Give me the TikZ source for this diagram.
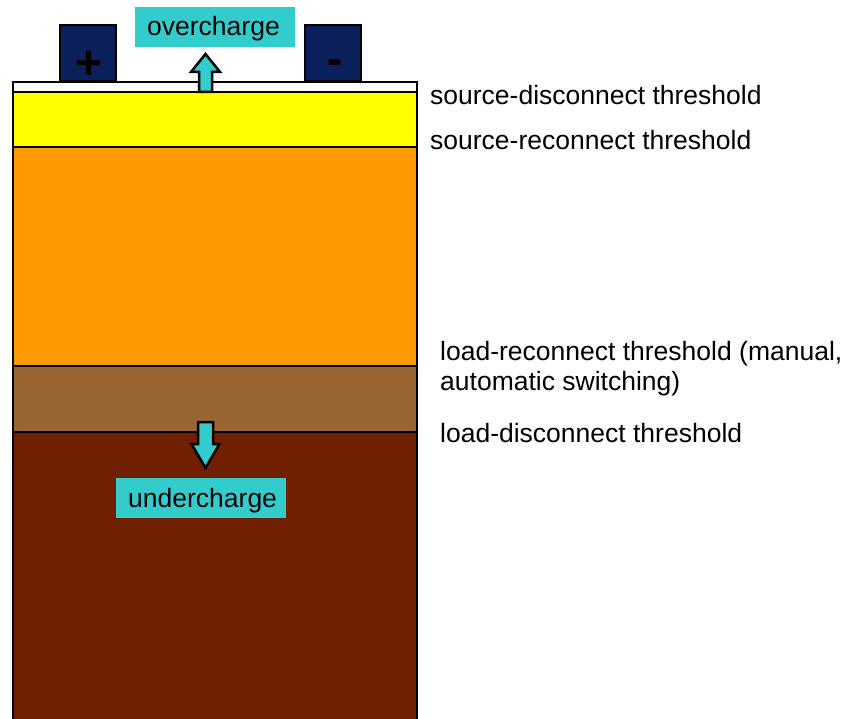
\documentclass[tikz,border=0pt]{standalone}
\usepackage{fontspec}
\setmainfont{Liberation Sans}
\definecolor{cyellow}{HTML}{FFFF00}
\definecolor{corange}{HTML}{FF9900}
\definecolor{ctan}{HTML}{996633}
\definecolor{cbrown}{HTML}{702000}
\definecolor{cnavy}{HTML}{0B1F5B}
\definecolor{cteal}{HTML}{33CCCC}
\tikzset{
  layer/.style={draw=black, line width=2.8pt},
  terminal/.style={draw=black, line width=2.6pt, fill=cnavy},
  blockarrow/.style={draw=black, line width=2.5pt, fill=cteal, line join=miter},
  tag/.style={fill=cteal, inner sep=0pt},
  label/.style={anchor=base west, inner sep=0pt, font=\fontsize{26.5}{30}\selectfont},
  sign/.style={anchor=base, inner sep=0pt, font=\bfseries\fontsize{46}{46}\selectfont}
}
\begin{document}
\begin{tikzpicture}[x=1pt,y=-1pt]
\useasboundingbox (0,0) rectangle (848,719);
\begin{scope}
\clip (0,0) rectangle (848,719);
% battery layers
\draw[layer, fill=white]   (13,82)  rectangle (417,92);
\draw[layer, fill=cyellow] (13,92)  rectangle (417,147);
\draw[layer, fill=corange] (13,147) rectangle (417,366);
\draw[layer, fill=ctan]    (13,366) rectangle (417,432);
\draw[layer, fill=cbrown]  (13,432) rectangle (417,730);
\end{scope}
% terminals
\draw[terminal] (60,25) rectangle (116,81);
\draw[terminal] (305,25) rectangle (361,81);
\node[sign] (plus) at (89,79) {+};
\node[sign] (minus) at (335,75) {-};
% overcharge
\fill[tag] (135,7) rectangle (295,47);
\node[label] (over) at (147,36) {overcharge};
\draw[blockarrow] (199,92) -- (199,72) -- (191,72) -- (205.5,54) -- (220,72) -- (212,72) -- (212,92) -- cycle;
% undercharge
\draw[blockarrow] (198,422) -- (213,422) -- (213,444) -- (219.5,444) -- (205.5,468) -- (191.5,444) -- (198,444) -- cycle;
\fill[tag] (116,478) rectangle (286,518);
\node[label] (under) at (128,507) {undercharge};
% threshold labels
\node[label] (sd) at (430,105) {source-disconnect threshold};
\node[label] (sr) at (430,150) {source-reconnect threshold};
\node[label] (lr1) at (440,360) {load-reconnect threshold (manual,};
\node[label] (lr2) at (440,390) {automatic switching)};
\node[label] (ld) at (440,442) {load-disconnect threshold};
\end{tikzpicture}
\end{document}
